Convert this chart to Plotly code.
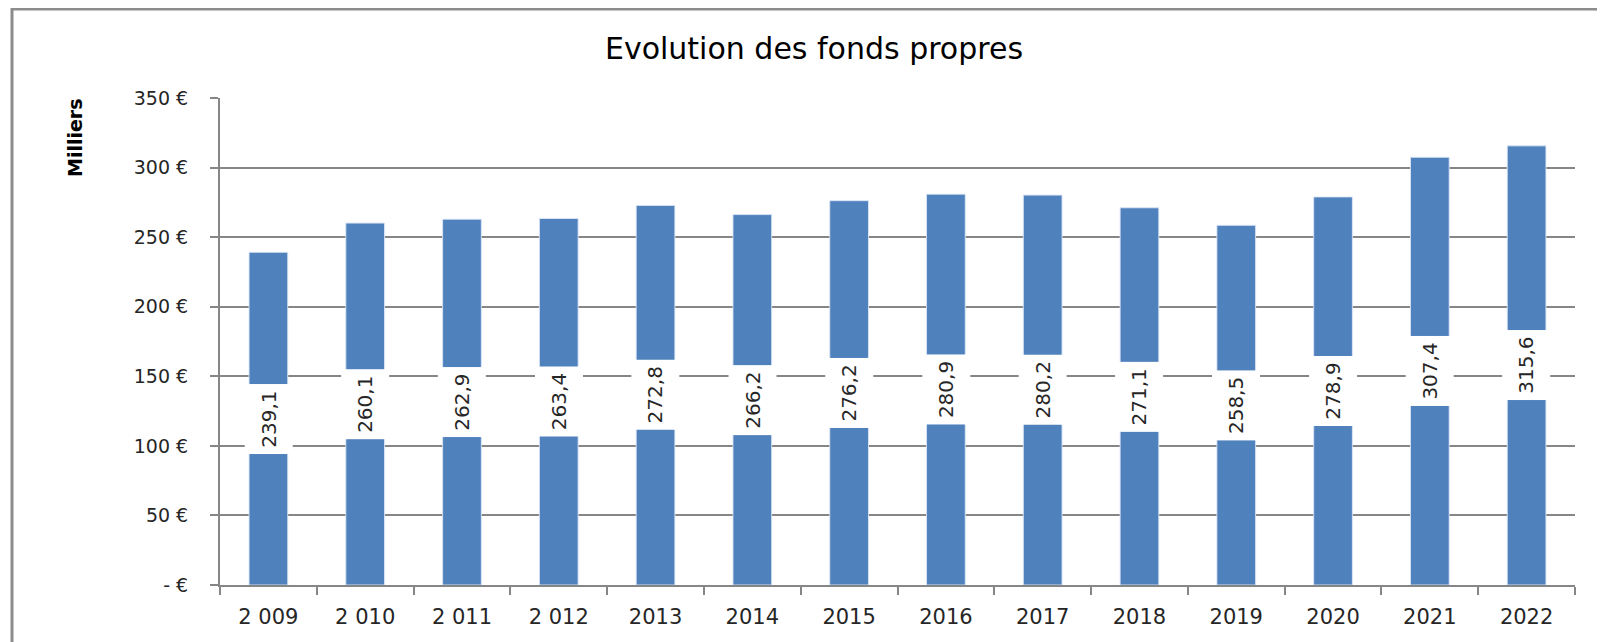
import plotly.graph_objects as go

categories = ["2 009", "2 010", "2 011", "2 012", "2013", "2014", "2015",
              "2016", "2017", "2018", "2019", "2020", "2021", "2022"]
fonds_propres = [239.1, 260.1, 262.9, 263.4, 272.8, 266.2, 276.2,
                 280.9, 280.2, 271.1, 258.5, 278.9, 307.4, 315.6]
y_tick_vals = [0, 50, 100, 150, 200, 250, 300, 350]
y_tick_text = ["- €", "50 €", "100 €", "150 €", "200 €", "250 €", "300 €", "350 €"]
title_text = "Evolution des fonds propres"
y_title = "Milliers"

FONT = "DejaVu Sans"
GRID = "#868686"
TXT = "#262626"

# the page body adds an 8px offset; positions below are in figure pixels
OFF = 8
W, H = 1605, 642
ML, MR, MT, MB = 220 - OFF, 30 + OFF, 98 - OFF, 57 + OFF
PW, PH = W - ML - MR, H - MT - MB

fig = go.Figure()
fig.add_trace(go.Bar(
    x=categories, y=fonds_propres, width=0.4,
    marker=dict(color="#4F81BD", line=dict(color="rgba(220,230,245,0.9)", width=1)),
    hoverinfo="x+y",
))

annotations = []
for i, v in enumerate(fonds_propres):
    annotations.append(dict(
        x=i, y=v / 2, xref="x", yref="y",
        text=f"{v:.1f}".replace(".", ","),
        textangle=-90, showarrow=False,
        font=dict(family=FONT, size=20, color=TXT),
        bgcolor="white", borderpad=5, borderwidth=0,
        width=60, height=38,
    ))

def px_x(px):
    return (px - OFF - ML) / PW

def px_y(py):
    return (H - MB - (py - OFF)) / PH

annotations.append(dict(
    x=px_x(75), y=px_y(138), xref="paper", yref="paper",
    xanchor="center", yanchor="middle",
    text=y_title, textangle=-90, showarrow=False,
    font=dict(family=FONT, size=19, color="black", weight="bold"),
))

fig.update_layout(
    width=W, height=H,
    margin=dict(l=ML, r=MR, t=MT, b=MB, autoexpand=False),
    paper_bgcolor="white", plot_bgcolor="white",
    showlegend=False,
    title=dict(text=title_text, x=(814 - OFF) / W, xanchor="center", xref="container",
               y=1 - (48 - OFF) / H, yanchor="middle", yref="container",
               font=dict(family=FONT, size=30, color="black")),
    annotations=annotations,
    shapes=[dict(type="rect", xref="paper", yref="paper",
                 x0=px_x(12), y0=px_y(700), x1=px_x(1700), y1=px_y(9),
                 line=dict(color="#8c8c8c", width=3), fillcolor="rgba(0,0,0,0)",
                 layer="below")],
)
fig.update_xaxes(
    type="category", range=[-0.5, len(categories) - 0.5], autorange=False,
    categoryorder="array", categoryarray=categories,
    showline=True, linecolor=GRID, linewidth=2,
    ticks="outside", tickson="boundaries", ticklen=8, tickcolor=GRID, tickwidth=2,
    tickfont=dict(family=FONT, size=21, color=TXT), ticklabelstandoff=12,
    tickangle=0, automargin=False,
    showgrid=False, zeroline=False,
)
fig.update_yaxes(
    range=[0, 350], autorange=False, tickvals=y_tick_vals, ticktext=y_tick_text,
    showline=True, linecolor=GRID, linewidth=2,
    ticks="outside", ticklen=8, tickcolor=GRID, tickwidth=2,
    showgrid=True, gridcolor=GRID, gridwidth=2, zeroline=False,
    tickfont=dict(family=FONT, size=19, color=TXT), ticklabelstandoff=18,
    automargin=False,
)

fig.write_html("out.html")
